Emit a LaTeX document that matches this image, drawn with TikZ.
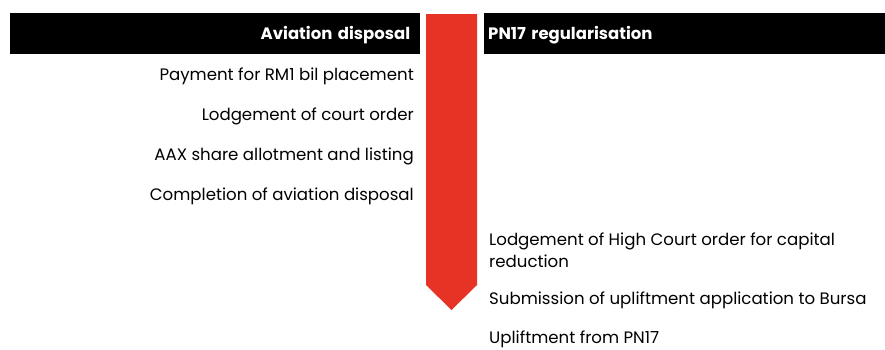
\documentclass[tikz,border=0pt]{standalone}
\usepackage{fontspec}
\setmainfont{Poppins}
\definecolor{arrowred}{RGB}{230,51,37}

\tikzstyle{bar}=[fill=black, text=white, font=\bfseries\fontsize{16.5}{19}\selectfont, minimum height=41pt, inner ysep=0pt, text depth=1pt]
\tikzstyle{event}=[font=\fontsize{16.6}{22}\selectfont, inner sep=0pt]

\begin{document}
\begin{tikzpicture}[x=1pt, y=-1pt]
            \useasboundingbox (0,0) rectangle (885,349);
            % headers
            \node[bar, anchor=north west, text width=390pt, inner xsep=10pt, align=right] at (10,13) (aviation) {Aviation disposal};
            \node[bar, anchor=north west, text width=393pt, inner xsep=4pt, align=left] at (484,13) (pn17) {PN17 regularisation};
            % timeline arrow
            \fill[arrowred] (426,14) -- (477,14) -- (477,285) -- (451.5,310) -- (426,285) -- cycle;
            % aviation disposal steps
            \node[event, anchor=east] at (414,76) (A1) {Payment for RM1 bil placement};
            \node[event, anchor=east] at (414,116) (A2) {Lodgement of court order};
            \node[event, anchor=east] at (414,156) (A3) {AAX share allotment and listing};
            \node[event, anchor=east] at (414,196) (A4) {Completion of aviation disposal};
            % PN17 steps
            \node[event, anchor=west, align=left] at (489,250) (P1) {Lodgement of High Court order for capital\\reduction};
            \node[event, anchor=west] at (489,300) (P2) {Submission of upliftment application to Bursa};
            \node[event, anchor=west] at (489,339) (P3) {Upliftment from PN17};
        \end{tikzpicture}
\end{document}
